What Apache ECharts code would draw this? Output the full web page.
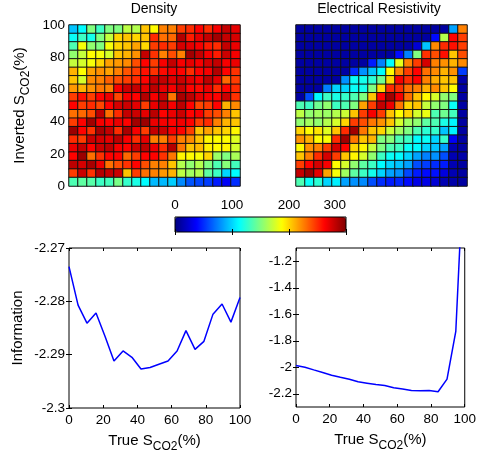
<!DOCTYPE html>
<html><head><meta charset="utf-8">
<script src="https://cdn.jsdelivr.net/npm/echarts@6/dist/echarts.min.js"></script>
<style>html,body{margin:0;padding:0;background:#fff}#c{width:479px;height:456px}</style>
</head><body><div id="c"></div>
<script>
// ---- data ----
const cellBins = ['2.6','7.9','13.2','18.4','23.7','28.9','34.2','39.5','44.7','50','55.3','60.5','65.8','71.1','76.3','81.6','86.8','92.1','97.4'];
const pctTicks = [0, 20, 40, 60, 80, 100];
const colorTicks = [0, 100, 200, 300];
// rows listed top (100%) to bottom (0%)
const densityRows = [
  [95,112,150,130,150,150,168,165,205,188,225,225,245,250,262,250,265,280,270],
  [115,130,118,150,170,200,205,200,205,250,230,232,285,255,270,280,290,280,275],
  [135,185,155,150,185,200,205,215,198,245,250,245,275,270,265,255,250,280,268],
  [155,170,188,185,175,205,210,220,280,248,225,240,225,290,280,265,255,278,265],
  [170,175,185,200,215,218,222,240,262,245,265,280,265,270,265,275,280,265,268],
  [210,188,215,220,215,225,238,245,258,248,260,265,262,250,262,265,285,262,248],
  [205,175,222,225,235,240,245,250,262,278,280,272,278,270,265,282,270,232,245],
  [218,210,220,228,225,265,278,280,270,282,270,265,278,262,260,268,250,262,250],
  [245,258,245,262,268,242,265,262,285,265,278,228,288,282,270,265,262,278,248],
  [262,245,250,242,262,275,278,270,245,268,280,265,282,262,242,245,262,210,222],
  [230,232,240,282,230,250,280,278,270,283,262,268,278,262,265,245,240,225,205],
  [245,262,290,265,262,268,262,290,292,268,265,262,266,262,245,250,225,210,205],
  [292,262,248,288,280,250,288,265,245,280,278,265,262,245,205,215,205,200,190],
  [250,245,278,275,270,282,265,250,270,225,225,245,225,222,205,190,188,188,178],
  [268,280,262,278,282,265,262,278,282,268,250,285,228,205,208,192,188,190,175],
  [262,292,230,248,262,262,232,245,262,262,248,228,190,188,186,200,158,150,162],
  [282,275,288,268,230,240,248,262,240,225,225,205,165,155,165,150,135,152,132],
  [245,278,248,285,280,278,205,245,230,225,218,210,168,160,165,140,130,100,112],
  [135,140,138,130,132,148,128,120,112,92,92,98,78,62,58,55,45,35,50]
];
const resistivityRows = [
  [10,10,10,10,10,10,10,10,10,10,10,10,10,10,10,10,10,85,225],
  [10,10,10,10,10,10,10,10,10,10,10,10,10,10,10,40,165,262,245],
  [10,10,10,10,10,10,10,10,10,10,10,10,10,25,95,222,250,258,245],
  [10,10,10,10,10,10,10,10,10,10,10,40,75,150,248,240,258,205,240],
  [10,10,10,10,10,10,10,10,45,75,112,180,225,245,275,225,220,210,222],
  [10,10,10,10,10,10,50,80,95,112,188,222,245,262,230,222,210,220,55],
  [10,10,10,10,10,80,115,118,125,145,200,265,250,262,225,212,205,205,12],
  [10,10,10,75,100,100,115,118,150,198,250,248,230,225,210,222,205,188,10],
  [10,60,112,130,120,128,135,150,205,262,290,265,230,205,188,175,155,150,10],
  [135,130,145,155,130,135,150,215,245,280,268,228,200,205,170,155,150,115,10],
  [168,155,160,158,165,172,205,245,265,245,205,188,200,175,182,135,145,132,10],
  [155,160,155,165,175,200,245,240,228,220,205,175,160,155,140,135,120,110,10],
  [200,188,195,178,205,250,290,228,205,200,172,160,150,135,125,128,95,108,10],
  [220,210,188,186,250,290,228,205,210,150,152,135,130,112,115,100,128,35,10],
  [188,220,225,245,275,262,200,190,170,150,135,130,115,112,100,95,85,15,10],
  [205,225,250,275,245,205,190,175,155,130,115,112,100,85,75,80,60,15,12],
  [245,262,275,265,188,175,155,140,130,112,100,95,85,60,55,50,45,15,10],
  [280,292,270,215,185,160,140,130,118,100,85,80,58,45,40,42,28,15,10],
  [135,115,125,100,108,85,80,78,60,50,45,48,40,30,30,25,15,12,10]
];
const trueSco2 = [0,5.3,10.5,15.8,21.1,26.3,31.6,36.8,42.1,47.4,52.6,57.9,63.2,68.4,73.7,78.9,84.2,89.5,94.7,100];
const infoDensity = [-2.2735,-2.2807,-2.2841,-2.2822,-2.2866,-2.2912,-2.2893,-2.2905,-2.2927,-2.2924,-2.2918,-2.2912,-2.2893,-2.2855,-2.2890,-2.2875,-2.2824,-2.2805,-2.2839,-2.2793];
const infoResistivity = [-1.987,-2.00,-2.02,-2.04,-2.06,-2.075,-2.09,-2.11,-2.12,-2.13,-2.137,-2.155,-2.165,-2.175,-2.177,-2.176,-2.185,-2.09,-1.73,-0.3];
const infoTicksLeft = [-2.3,-2.29,-2.28,-2.27];
const infoTicksRight = [-2.2,-2,-1.8,-1.6,-1.4,-1.2];

// ---- helpers ----
const FONT = '"Liberation Sans", Arial, sans-serif';
const jet = ['#000080','#0000ff','#0080ff','#00ffff','#80ff80','#ffff00','#ff8000','#ff0000','#800000'];
function heatData(rows){
  const out = [];
  rows.forEach((row, r) => row.forEach((v, c) => out.push([c, rows.length - 1 - r, v])));
  return out;
}
function pairs(xs, ys){ return xs.map((x, i) => [x, ys[i]]); }
const lbl = {color:'#000', fontFamily:FONT, fontSize:13.5};
const nameStyle = {color:'#000', fontFamily:FONT, fontSize:15,
  rich:{s:{color:'#000', fontFamily:FONT, fontSize:12, padding:[13,0,0,0]}}};
const tick = {show:true, inside:true, length:3, lineStyle:{color:'#000', width:1}};
const noLine = {show:false};
const noSplit = {show:false};

function pctX(grid, pos, labels, name){
  return {gridIndex:grid, type:'value', position:pos, min:0, max:100, interval:20,
    axisLine:noLine, splitLine:noSplit,
    axisTick:Object.assign({customValues:pctTicks}, tick),
    axisLabel: labels ? Object.assign({margin:5, customValues:pctTicks}, lbl) : {show:false},
    name: name || '', nameLocation:'middle', nameGap:20, nameTextStyle:nameStyle};
}
function infoY(grid, pos, min, max, ticks, labels, name){
  return {gridIndex:grid, type:'value', position:pos, min:min, max:max,
    axisLine:noLine, splitLine:noSplit,
    axisTick:Object.assign({customValues:ticks}, tick),
    axisLabel: labels ? Object.assign({margin:4, customValues:ticks}, lbl) : {show:false},
    name: name || '', nameLocation:'middle', nameRotate:90, nameGap:44, nameTextStyle:nameStyle};
}

const option = {
  animation:false,
  backgroundColor:'#fff',
  title:[
    {text:'Density', left:154, top:2, textAlign:'center', padding:0,
     textStyle:{color:'#000', fontFamily:FONT, fontSize:14, fontWeight:'normal'}},
    {text:'Electrical Resistivity', left:379, top:2, textAlign:'center', padding:0,
     textStyle:{color:'#000', fontFamily:FONT, fontSize:14, fontWeight:'normal'}}
  ],
  grid:[
    {left:69, top:25, width:171, height:161},
    {left:296, top:25, width:171, height:161},
    {left:175, top:217, width:171, height:15, show:true, z:10, borderColor:'#000', borderWidth:1, backgroundColor:'transparent'},
    {left:69, top:248, width:171, height:160, show:true, borderColor:'#000', borderWidth:1},
    {left:296, top:248, width:171, height:159, show:true, borderColor:'#000', borderWidth:1}
  ],
  xAxis:[
    {gridIndex:0, type:'category', data:cellBins, show:false},
    {gridIndex:1, type:'category', data:cellBins, show:false},
    {gridIndex:2, type:'value', position:'top', min:0, max:300, z:10,
     axisLine:noLine, splitLine:noSplit,
     axisTick:Object.assign({customValues:colorTicks}, tick),
     axisLabel:Object.assign({margin:5, customValues:colorTicks, alignMaxLabel:'right'}, lbl)},
    {gridIndex:2, type:'value', position:'bottom', min:0, max:300, z:10,
     axisLine:noLine, splitLine:noSplit,
     axisTick:Object.assign({customValues:colorTicks}, tick), axisLabel:{show:false}},
    pctX(3, 'bottom', true, 'True S{s|CO2}(%)'),
    pctX(3, 'top', false),
    pctX(4, 'bottom', true, 'True S{s|CO2}(%)'),
    pctX(4, 'top', false)
  ],
  yAxis:[
    {gridIndex:0, type:'category', data:cellBins, show:false},
    {gridIndex:0, type:'value', position:'left', min:0, max:100,
     axisLine:noLine, axisTick:{show:false}, splitLine:noSplit,
     axisLabel:Object.assign({margin:4, customValues:pctTicks}, lbl),
     name:'Inverted S{s|CO2}(%)', nameLocation:'middle', nameRotate:90, nameGap:37, nameTextStyle:nameStyle},
    {gridIndex:1, type:'category', data:cellBins, show:false},
    {gridIndex:2, type:'value', min:0, max:1, show:false},
    infoY(3, 'left', -2.3, -2.27, infoTicksLeft, true, 'Information'),
    infoY(3, 'right', -2.3, -2.27, infoTicksLeft, false),
    infoY(4, 'left', -2.3, -1.1, infoTicksRight, true),
    infoY(4, 'right', -2.3, -1.1, infoTicksRight, false)
  ],
  visualMap:{
    type:'continuous', min:0, max:300, dimension:2, seriesIndex:[0,1],
    orient:'horizontal', left:175, top:217, itemWidth:15, itemHeight:171,
    calculable:false, hoverLink:false, padding:0, text:null, showLabel:false,
    inRange:{color:jet}
  },
  series:[
    {type:'heatmap', xAxisIndex:0, yAxisIndex:0, data:heatData(densityRows),
     itemStyle:{borderColor:'#111', borderWidth:1}},
    {type:'heatmap', xAxisIndex:1, yAxisIndex:2, data:heatData(resistivityRows),
     itemStyle:{borderColor:'#111', borderWidth:1}},
    {type:'line', xAxisIndex:4, yAxisIndex:4, data:pairs(trueSco2, infoDensity),
     showSymbol:false, lineStyle:{color:'#0000ff', width:1.5}, itemStyle:{color:'#0000ff'}},
    {type:'line', xAxisIndex:6, yAxisIndex:6, data:pairs(trueSco2, infoResistivity),
     showSymbol:false, clip:true, lineStyle:{color:'#0000ff', width:1.5}, itemStyle:{color:'#0000ff'}}
  ]
};
const chart = echarts.init(document.getElementById('c'), null, {renderer:'canvas'});
chart.setOption(option);
</script>
</body></html>
